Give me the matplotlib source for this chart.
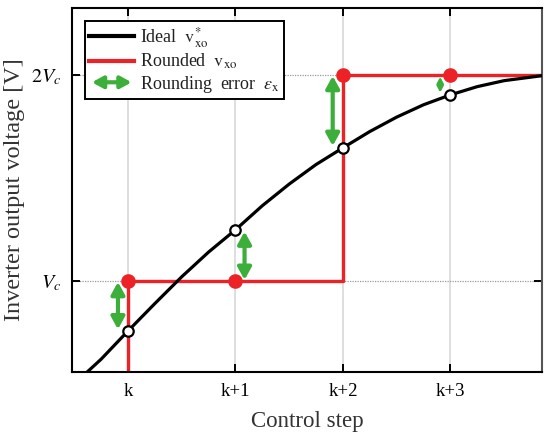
import matplotlib
matplotlib.use('Agg')
import matplotlib.pyplot as plt
from matplotlib.patches import FancyArrowPatch
from matplotlib.legend_handler import HandlerPatch
from matplotlib.lines import Line2D

# ideal inverter voltage (x in control steps, y in units of Vc)
ideal_x = [-0.375, -0.25, 0, 0.25, 0.5, 0.75, 1, 1.25, 1.5, 1.75, 2, 2.25, 2.5, 2.75, 3, 3.25, 3.5, 3.85]
ideal_y = [0.56, 0.62, 0.757, 0.89, 1.02, 1.14, 1.248, 1.365, 1.47, 1.565, 1.646, 1.725, 1.795, 1.855, 1.903, 1.943, 1.972, 1.996]

# samples at the control steps
step_x = [0, 1, 2, 3]
ideal_at_step = [0.757, 1.248, 1.646, 1.903]
rounded_at_step = [1, 1, 2, 2]
rounded_before = 0

# rounding error arrows (x position, value from, value to)
err_x = [-0.093, 1.085, 1.905, 2.905]
err_from = [0.995, 1.24, 1.995, 1.99]
err_to = [0.765, 1.005, 1.655, 1.915]

xticklabels = ['k', 'k+1', 'k+2', 'k+3']
yticks = [1, 2]
yticklabels = ['$V_c$', '$2V_c$']

RED = '#ec2227'
GREEN = '#3cae3a'
ARROW = '<|-|>,head_length=0.4,head_width=0.22'

plt.rcParams['font.family'] = ['Liberation Serif', 'DejaVu Serif']
plt.rcParams['mathtext.fontset'] = 'stix'

fig = plt.figure(figsize=(5.5, 4.4), dpi=100)
ax = fig.add_axes([0.131, 0.1545, 0.854, 0.8275])
xmin, xmax = -0.52, 3.85
ymin, ymax = 0.558, 2.325
ax.set_xlim(xmin, xmax)
ax.set_ylim(ymin, ymax)

# grid
for xv in step_x:
    ax.axvline(xv, color='#d8d8d8', lw=1.2, zorder=0)
for yv in yticks:
    ax.axhline(yv, color='#9a9a9a', lw=0.9, ls=(0, (1, 1)), zorder=0)

# rounded staircase
rx = [step_x[0]] + step_x + [xmax]
ry = [rounded_before] + rounded_at_step + [rounded_at_step[-1]]
ax.plot(rx, ry, color=RED, lw=2.4, drawstyle='steps-post', zorder=2)

# ideal curve
ax.plot(ideal_x, ideal_y, color='black', lw=2.3, zorder=3)

# error arrows, heads shrink on the short ones
for xa, y0, y1 in zip(err_x, err_from, err_to):
    scale = min(18, abs(y0 - y1) * 110)
    ax.add_patch(FancyArrowPatch((xa, y0), (xa, y1), arrowstyle=ARROW,
                                 mutation_scale=scale, color=GREEN, lw=3 if scale > 12 else 1.8,
                                 shrinkA=0, shrinkB=0, zorder=4))

ax.plot(step_x, rounded_at_step, 'o', color=RED, ms=9.5, zorder=5)
ax.plot(step_x, ideal_at_step, 'o', mfc='white', mec='black', ms=7.5, mew=1.6, zorder=6)

ax.set_xticks(step_x)
ax.set_xticklabels(xticklabels, fontsize=13.5)
ax.set_yticks(yticks)
ax.set_yticklabels(yticklabels, fontsize=14.5)
ax.tick_params(direction='in', length=6, width=1.4, top=True, right=True, pad=8)
for s in ax.spines.values():
    s.set_linewidth(1.5)
ax.spines['right'].set_color('#555555')

ax.set_xlabel('Control step', fontsize=16.5, color='#333333', labelpad=8)
ax.set_ylabel('Inverter output voltage [V]', fontsize=17.5, color='#333333', labelpad=4)


class HandlerArrow(HandlerPatch):
    def create_artists(self, legend, orig_handle, xdescent, ydescent, width, height, fontsize, trans):
        yc = 0.5 * height - ydescent
        p = FancyArrowPatch((-xdescent + 2, yc), (width - xdescent - 2, yc), arrowstyle=ARROW,
                            mutation_scale=16, color=GREEN, lw=3, shrinkA=0, shrinkB=0, transform=trans)
        return [p]


arrow_proxy = FancyArrowPatch((0, 0), (1, 0), color=GREEN)
handles = [Line2D([], [], color='black', lw=3),
           Line2D([], [], color=RED, lw=3),
           arrow_proxy]
labels = [r'Ideal  $\mathrm{v}^{*}_{\mathrm{xo}}$',
          r'Rounded  $\mathrm{v}_{\mathrm{xo}}$',
          r'Rounding  error  $\epsilon_{\mathrm{x}}$']
leg = ax.legend(handles, labels, loc='upper left', fontsize=13, handlelength=2.5,
                handler_map={FancyArrowPatch: HandlerArrow()},
                fancybox=False, framealpha=1, edgecolor='black', borderaxespad=0.7,
                labelspacing=0.12, borderpad=0.25, handletextpad=0.3)
leg.get_frame().set_linewidth(1.4)
for t in leg.get_texts():
    t.set_color('#222222')

fig.savefig('out.png', dpi=100)
